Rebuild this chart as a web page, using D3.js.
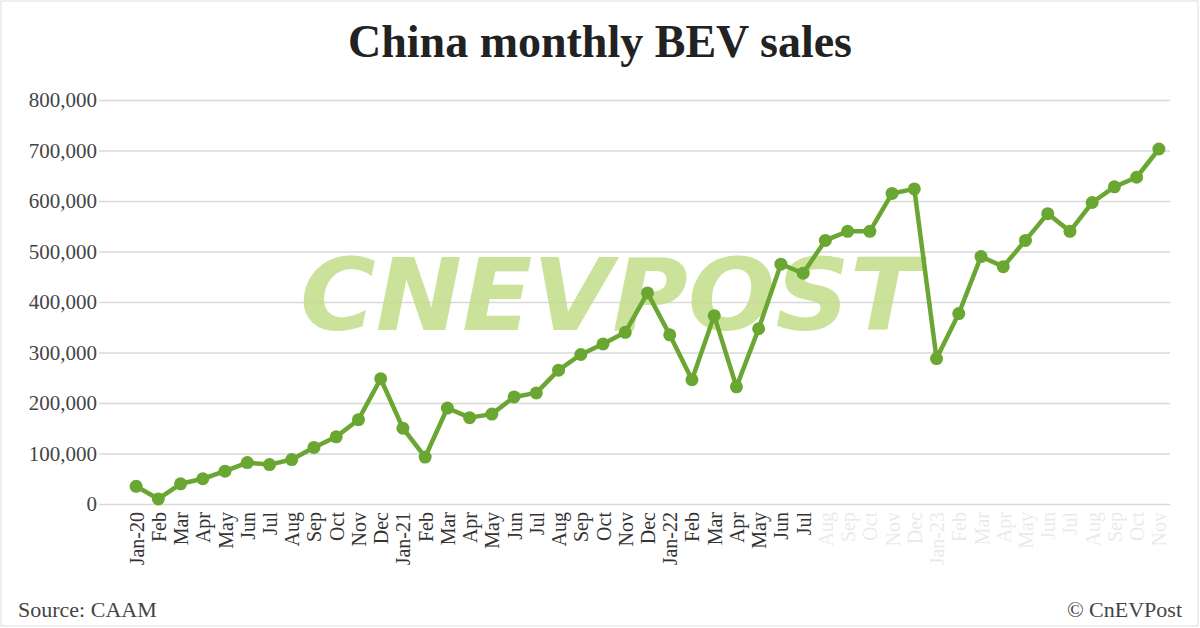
<!DOCTYPE html>
<html><head><meta charset="utf-8">
<script src="https://cdn.jsdelivr.net/npm/d3@7"></script>
<style>body{margin:0;background:#fff}</style></head>
<body><svg id="c" width="1200" height="628"></svg>
<script>
const months = ["Jan-20","Feb","Mar","Apr","May","Jun","Jul","Aug","Sep","Oct","Nov","Dec",
"Jan-21","Feb","Mar","Apr","May","Jun","Jul","Aug","Sep","Oct","Nov","Dec",
"Jan-22","Feb","Mar","Apr","May","Jun","Jul","Aug","Sep","Oct","Nov","Dec",
"Jan-23","Feb","Mar","Apr","May","Jun","Jul","Aug","Sep","Oct","Nov"];
const sales = [35000,10000,40000,50000,65000,82000,78000,88000,112000,133000,167000,248000,
150000,93000,190000,171000,178000,212000,220000,265000,296000,317000,340000,418000,
335000,246000,373000,232000,347000,475000,457000,522000,540000,540000,615000,624000,
288000,377000,490000,470000,522000,575000,540000,597000,628000,647000,703000];
const yTicks = [0,100000,200000,300000,400000,500000,600000,700000,800000];

const svg = d3.select("#c");
svg.append("rect").attr("x",1).attr("y",1).attr("width",1197).attr("height",625).attr("fill","#fff").attr("stroke","#ddd");
const idx = months.map((m,i)=>i);
const x = d3.scalePoint().domain(idx).range([125,1170]).padding(0.5);
const y = d3.scaleLinear().domain([0,800000]).range([504,100]);
const serif = "'Liberation Serif','DejaVu Serif',serif";

svg.append("text").attr("x",600).attr("y",57).attr("text-anchor","middle")
 .attr("font-family",serif).attr("font-weight","bold").attr("font-size",46).attr("fill","#222")
 .text("China monthly BEV sales");

const gy = svg.append("g").attr("transform","translate(99,0)")
 .call(d3.axisLeft(y).tickValues(yTicks).tickSize(-1071).tickFormat(d3.format(",")));
gy.select(".domain").remove();
gy.selectAll(".tick line").attr("stroke","#d9d9d9").attr("stroke-width",1.5);
gy.selectAll(".tick text").attr("x",-2).attr("font-family",serif).attr("font-size",21).attr("fill","#444");

// watermark
svg.append("text").attr("x",610).attr("y",330).attr("text-anchor","middle")
 .attr("font-family","'DejaVu Sans',sans-serif").attr("font-weight","bold").attr("font-style","italic")
 .attr("font-size",100).attr("fill","#c3dd8a").attr("opacity",0.85).attr("textLength",620)
 .attr("lengthAdjust","spacingAndGlyphs").text("CNEVPOST");

const gx = svg.append("g").attr("transform","translate(0,504)")
 .call(d3.axisBottom(x).tickSize(0).tickFormat(i=>months[i]));
gx.select(".domain").remove();
gx.selectAll(".tick text").attr("transform","rotate(-90)").attr("text-anchor","end")
 .attr("x",-8).attr("y",0).attr("dy","0.35em").attr("font-family",serif).attr("font-size",20)
 .attr("fill","#333").attr("opacity",(d)=>d>30?0.1:1);

const line = d3.line().x((d,i)=>x(i)).y(d=>y(d));
svg.append("path").datum(sales).attr("d",line).attr("fill","none")
 .attr("stroke","#6aa632").attr("stroke-width",4.5).attr("stroke-linejoin","round");
svg.selectAll("circle.p").data(sales).join("circle").attr("class","p")
 .attr("cx",(d,i)=>x(i)).attr("cy",d=>y(d)).attr("r",6.5).attr("fill","#6aa632");

svg.append("text").attr("x",18).attr("y",617).attr("font-family",serif).attr("font-size",22).attr("fill","#444").text("Source: CAAM");
svg.append("text").attr("x",1182).attr("y",617).attr("text-anchor","end").attr("font-family",serif).attr("font-size",22).attr("fill","#444").text("© CnEVPost");
</script></body></html>
